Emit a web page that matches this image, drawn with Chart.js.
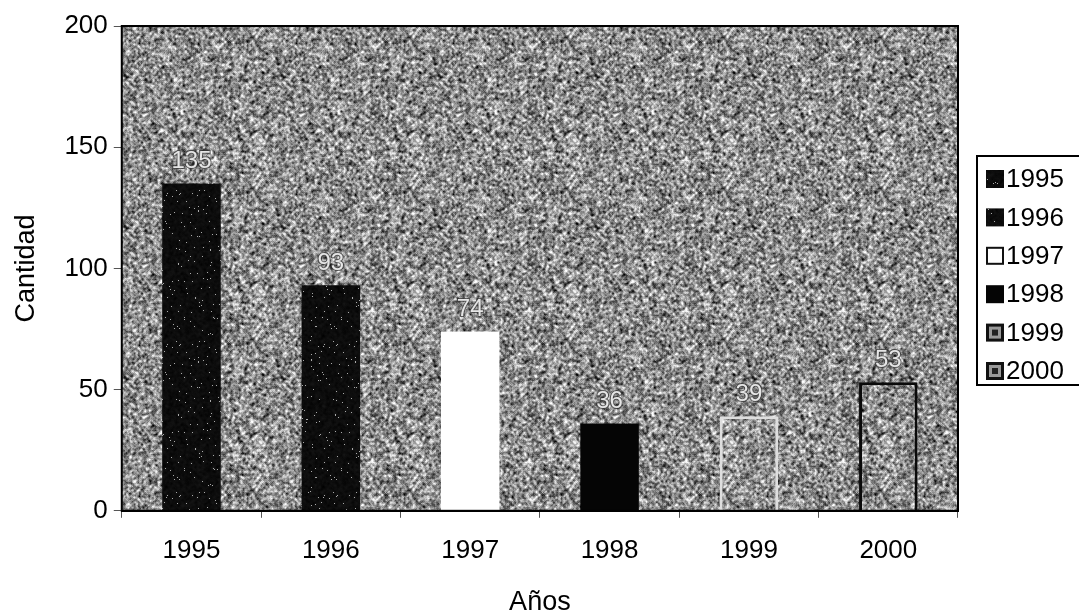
<!DOCTYPE html>
<html>
<head>
<meta charset="utf-8">
<script src="https://cdn.jsdelivr.net/npm/chart.js@4.4.0/dist/chart.umd.min.js"></script>
<style>
  body { margin: 0; background: #fff; }
  #wrap { width: 1079px; height: 614px; }
</style>
</head>
<body>
<div id="wrap"><canvas id="cantidadChart" width="1079" height="614"></canvas></div>
<script>
// datos del grafico
const anios = ["1995", "1996", "1997", "1998", "1999", "2000"];
const cantidades = [135, 93, 74, 36, 39, 53];
const ticksY = [0, 50, 100, 150, 200];

const FUENTE = "'Liberation Sans', Arial, sans-serif";

// hash entero para una textura fija (no es aleatoria, siempre igual)
function hash(n) {
    n = Math.imul(n ^ (n >>> 16), 0x45d9f3b);
    n = Math.imul(n ^ (n >>> 16), 0x45d9f3b);
    return ((n ^ (n >>> 16)) >>> 0) / 4294967296;
}

// textura gris tipo escaneo, sin costuras
function makeNoise(base, contrast, seed, dots) {
    const W = 157, H = 151;
    const raw = new Float32Array(W * H);
    for (let i = 0; i < W * H; i++) raw[i] = hash(i * 7 + seed);
    const c = document.createElement("canvas");
    c.width = W; c.height = H;
    const g = c.getContext("2d");
    const img = g.createImageData(W, H);
    for (let y = 0; y < H; y++) {
        for (let x = 0; x < W; x++) {
            let sum = 0;
            for (let dy = -1; dy <= 1; dy++) {
                for (let dx = -1; dx <= 1; dx++) {
                    const xx = (x + dx + W) % W, yy = (y + dy + H) % H;
                    sum += raw[yy * W + xx] * (dx === 0 && dy === 0 ? 2 : 1);
                }
            }
            let v = base + (sum / 10 - 0.5) * contrast;
            if (dots && raw[y * W + x] > 0.985) v = 170;
            v = Math.max(0, Math.min(255, v));
            const k = (y * W + x) * 4;
            img.data[k] = v; img.data[k + 1] = v; img.data[k + 2] = v; img.data[k + 3] = 255;
        }
    }
    g.putImageData(img, 0, 0);
    return g.createPattern(c, "repeat");
}

const fondo = makeNoise(140, 430, 11, false);
const negroPuntos = makeNoise(12, 30, 97, true);

const rellenos = [negroPuntos, negroPuntos, "#ffffff", "#050505", fondo, fondo];
const bordes = ["#111", "#111", "#ffffff", "#050505", "#dedede", "#0a0a0a"];
const grosores = [0, 0, 0, 0, 3, 3];

// fondo del area de trazado, marco y etiquetas de valores
const areaPlugin = {
    id: "area",
    beforeDatasetsDraw(chart) {
        const { ctx, chartArea: a } = chart;
        ctx.save();
        ctx.fillStyle = fondo;
        ctx.fillRect(a.left, a.top, a.right - a.left, a.bottom - a.top);
        ctx.restore();
    },
    afterDatasetsDraw(chart) {
        const { ctx, chartArea: a } = chart;
        ctx.save();
        ctx.strokeStyle = "#000";
        ctx.lineWidth = 2;
        ctx.strokeRect(a.left, a.top, a.right - a.left, a.bottom - a.top);
        const meta = chart.getDatasetMeta(0);
        ctx.font = "24px " + FUENTE;
        ctx.textAlign = "center";
        ctx.textBaseline = "bottom";
        meta.data.forEach((bar, i) => {
            const t = String(cantidades[i]);
            ctx.lineWidth = 2;
            ctx.strokeStyle = "rgba(50,50,50,0.7)";
            ctx.strokeText(t, bar.x, bar.y - 10);
            ctx.fillStyle = "#e6e6e6";
            ctx.fillText(t, bar.x, bar.y - 10);
        });
        ctx.restore();
    }
};

// leyenda con recuadro a la derecha
const leyendaPlugin = {
    id: "leyenda",
    afterDraw(chart) {
        const { ctx } = chart;
        const x0 = 977, y0 = 156;
        ctx.save();
        ctx.strokeStyle = "#000";
        ctx.lineWidth = 2;
        ctx.strokeRect(x0, y0, 110, 229);
        ctx.font = "26px " + FUENTE;
        ctx.textAlign = "left";
        ctx.textBaseline = "middle";
        anios.forEach((a, i) => {
            const cy = y0 + 23 + i * 38.4;
            const sx = 986, sy = cy - 9;
            if (i === 2) {
                ctx.fillStyle = "#fff";
                ctx.fillRect(sx, sy, 18, 18);
                ctx.lineWidth = 2;
                ctx.strokeStyle = "#111";
                ctx.strokeRect(sx + 1, sy + 1, 16, 16);
            } else if (i >= 4) {
                ctx.fillStyle = "#111";
                ctx.fillRect(sx, sy, 18, 18);
                ctx.fillStyle = "#999";
                ctx.fillRect(sx + 3, sy + 3, 12, 12);
                ctx.fillStyle = "#222";
                ctx.fillRect(sx + 6, sy + 6, 6, 6);
            } else {
                ctx.fillStyle = i === 3 ? "#050505" : negroPuntos;
                ctx.fillRect(sx, sy, 18, 18);
            }
            ctx.fillStyle = "#000";
            ctx.fillText(a, 1006, cy + 1);
        });
        ctx.restore();
    }
};

new Chart(document.getElementById("cantidadChart"), {
    type: "bar",
    data: {
        labels: anios,
        datasets: [{
            label: "Cantidad",
            data: cantidades,
            backgroundColor: rellenos,
            borderColor: bordes,
            borderWidth: grosores,
            borderSkipped: "bottom",
            barPercentage: 0.42,
            categoryPercentage: 1.0
        }]
    },
    options: {
        responsive: false,
        animation: false,
        layout: { padding: { top: 26, right: 121, bottom: -2, left: 0 } },
        plugins: {
            legend: { display: false },
            tooltip: { enabled: false }
        },
        scales: {
            y: {
                min: 0,
                max: 200,
                afterBuildTicks(scale) {
                    scale.ticks = ticksY.map(v => ({ value: v }));
                },
                grid: { drawOnChartArea: false, tickLength: 8, color: "#555", tickWidth: 1 },
                border: { display: true, color: "#000", width: 2 },
                ticks: {
                    color: "#000",
                    padding: 6,
                    font: { family: FUENTE, size: 26 }
                },
                title: {
                    display: true,
                    text: "Cantidad",
                    color: "#000",
                    padding: { top: 10, bottom: 16 },
                    font: { family: FUENTE, size: 27 }
                }
            },
            x: {
                grid: { drawOnChartArea: false, tickLength: 7, color: "#555", offset: true },
                border: { display: true, color: "#000", width: 2 },
                ticks: {
                    color: "#000",
                    padding: 17,
                    font: { family: FUENTE, size: 26 }
                },
                title: {
                    display: true,
                    text: "Años",
                    color: "#000",
                    padding: { top: 6, bottom: 0 },
                    font: { family: FUENTE, size: 27, lineHeight: 1.0 }
                }
            }
        }
    },
    plugins: [areaPlugin, leyendaPlugin]
});
</script>
</body>
</html>
